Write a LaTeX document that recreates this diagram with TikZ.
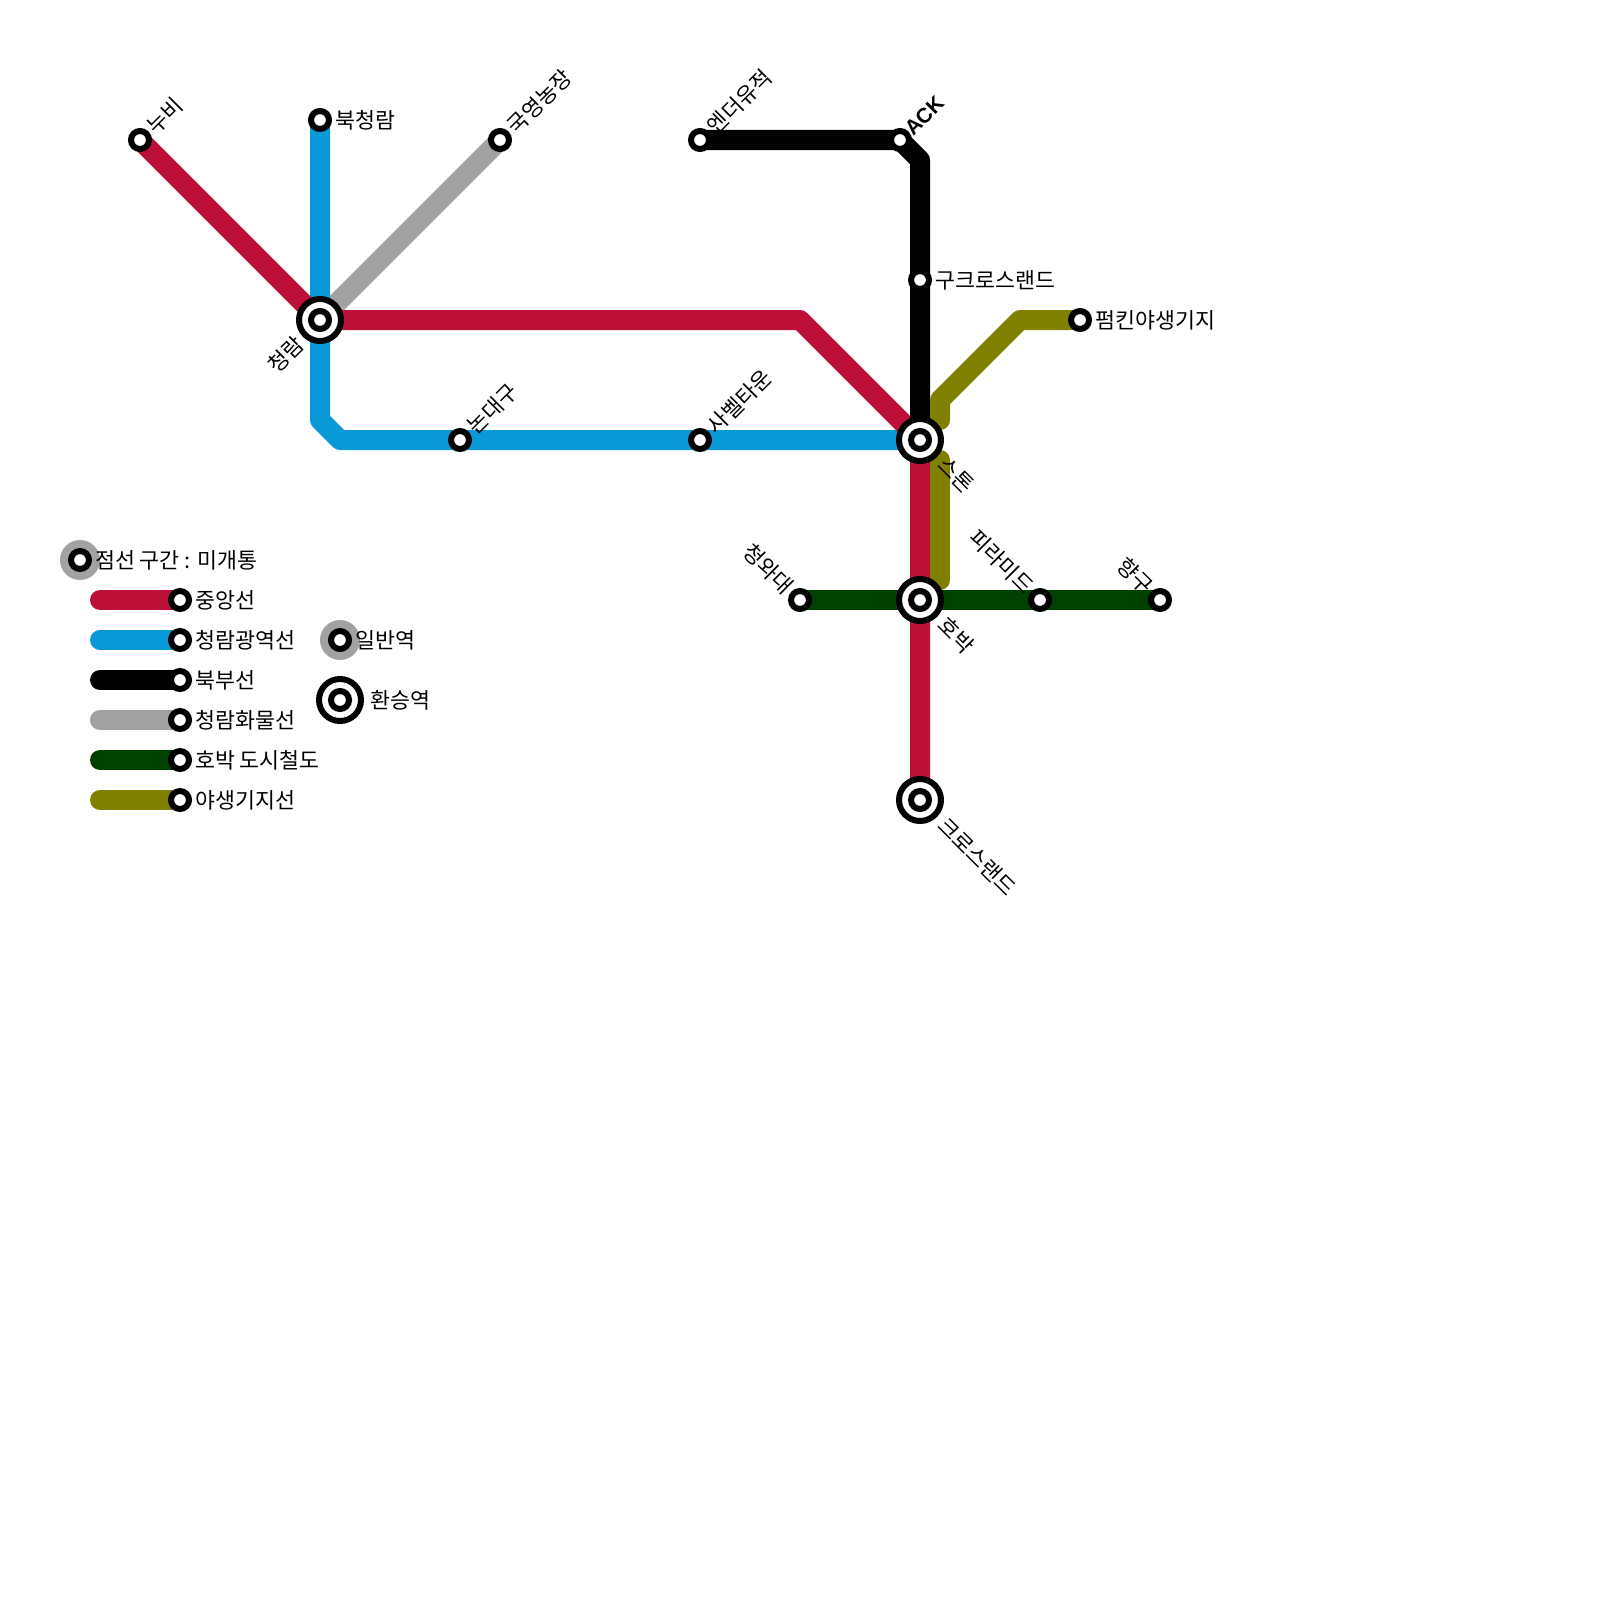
\documentclass[tikz,border=0pt]{standalone}
\usepackage{fontspec}
\setmainfont{Noto Sans CJK KR}
\newfontfamily\latinbold{Liberation Sans}
\usetikzlibrary{backgrounds}
\usepackage{xcolor}
\definecolor{centralred}{HTML}{BD1038}
\definecolor{metroblue}{HTML}{0998D8}
\definecolor{freightgray}{HTML}{A2A2A2}
\definecolor{pumpkingreen}{HTML}{004000}
\definecolor{wildolive}{HTML}{808000}
\tikzset{
  railline/.style={line width=20pt,line cap=round,line join=round},
  stn/.style={draw=black,fill=white,circle,line width=6pt,minimum size=18pt,inner sep=0pt},
  hub/.style={draw=black,fill=white,circle,line width=6pt,minimum size=42pt,inner sep=0pt},
  halo/.style={fill=freightgray,circle,minimum size=40pt,inner sep=0pt},
  txt/.style={inner sep=0pt,font=\fontsize{21.7}{24}\selectfont,text=black},
}
\begin{document}
\begin{tikzpicture}[x=20pt,y=-20pt]
  \useasboundingbox (0,0) rectangle (80,80);

  % stations
  \node[stn] (nubi) at (7,7) {};
  \node[stn] (bukcheongram) at (16,6) {};
  \node[stn] (farm) at (25,7) {};
  \node[stn] (ender) at (35,7) {};
  \node[stn] (ack) at (45,7) {};
  \node[stn] (oldcross) at (46,14) {};
  \node[stn] (pumpkin) at (54,16) {};
  \node[stn] (nondaegu) at (23,22) {};
  \node[stn] (savel) at (35,22) {};
  \node[stn] (cheongwadae) at (40,30) {};
  \node[stn] (pyramid) at (52,30) {};
  \node[stn] (hyanggu) at (58,30) {};

  % transfer stations
  \node[hub] (cheongram) at (16,16) {};
  \node[stn] (cheongraminner) at (16,16) {};
  \node[hub] (stone) at (46,22) {};
  \node[stn] (stoneinner) at (46,22) {};
  \node[hub] (hobak) at (46,30) {};
  \node[stn] (hobakinner) at (46,30) {};
  \node[hub] (crossland) at (46,40) {};
  \node[stn] (crosslandinner) at (46,40) {};

  % bends
  \coordinate (redbend) at (40,16);
  \coordinate (bluebenda) at (16,21);
  \coordinate (bluebendb) at (17,22);
  \coordinate (blackbend) at (46,8);
  \coordinate (olivea) at (51,16);
  \coordinate (oliveb) at (47,20);
  \coordinate (olivec) at (47,21);
  \coordinate (olived) at (47,23);
  \coordinate (olivee) at (47,29);

  % legend
  \node[stn] (legdotted) at (4,28) {};
  \node[stn] (legred) at (9,30) {};
  \node[stn] (legblue) at (9,32) {};
  \node[stn] (legblack) at (9,34) {};
  \node[stn] (leggray) at (9,36) {};
  \node[stn] (leggreen) at (9,38) {};
  \node[stn] (legolive) at (9,40) {};
  \node[stn] (legnormal) at (17,32) {};
  \node[hub] (leghub) at (17,35) {};
  \node[stn] (leghubinner) at (17,35) {};
  \coordinate (legreds) at (5,30);
  \coordinate (legblues) at (5,32);
  \coordinate (legblacks) at (5,34);
  \coordinate (leggrays) at (5,36);
  \coordinate (leggreens) at (5,38);
  \coordinate (legolives) at (5,40);

  \begin{scope}[on background layer]
    \node[halo] (legdottedhalo) at (4,28) {};
    \node[halo] (legnormalhalo) at (17,32) {};
    \draw[railline,freightgray] (farm.center) -- (cheongram.center);
    \draw[railline,metroblue] (bukcheongram.center) -- (bluebenda) -- (bluebendb) -- (stone.center);
    \draw[railline,centralred] (nubi.center) -- (cheongram.center) -- (redbend) -- (stone.center) -- (crossland.center);
    \draw[railline,black] (ender.center) -- (ack.center) -- (blackbend) -- (stone.center);
    \draw[railline,pumpkingreen] (cheongwadae.center) -- (hyanggu.center);
    \draw[railline,wildolive] (pumpkin.center) -- (olivea) -- (oliveb) -- (olivec);
    \draw[railline,wildolive] (olived) -- (olivee);
    \draw[railline,centralred] (legreds) -- (legred.center);
    \draw[railline,metroblue] (legblues) -- (legblue.center);
    \draw[railline,black] (legblacks) -- (legblack.center);
    \draw[railline,freightgray] (leggrays) -- (leggray.center);
    \draw[railline,pumpkingreen] (leggreens) -- (leggreen.center);
    \draw[railline,wildolive] (legolives) -- (legolive.center);
  \end{scope}

  % labels
  \node[txt,rotate=45,anchor=west] (nubitxt) at (7.55,6.5) {누비};
  \node[txt,anchor=west] (bukcheongramtxt) at (16.75,6.03) {북청람};
  \node[txt,rotate=45,anchor=west] (farmtxt) at (25.55,6.5) {국영농장};
  \node[txt,rotate=45,anchor=west] (endertxt) at (35.55,6.5) {엔더유적};
  \node[txt,rotate=45,anchor=west,font=\latinbold\fontsize{21}{24}\selectfont\bfseries] (acktxt) at (45.4,6.6) {ACK};
  \node[txt,anchor=west] (oldcrosstxt) at (46.75,14.03) {구크로스랜드};
  \node[txt,anchor=west] (pumpkintxt) at (54.75,16.03) {펌킨야생기지};
  \node[txt,rotate=45,anchor=east] (cheongramtxt) at (15,17) {청람};
  \node[txt,rotate=45,anchor=west] (nondaegutxt) at (23.55,21.5) {논대구};
  \node[txt,rotate=45,anchor=west] (saveltxt) at (35.55,21.5) {사벨타운};
  \node[txt,rotate=-45,anchor=west] (stonetxt) at (47.1,23.05) {스톤};
  \node[txt,rotate=-45,anchor=east] (cheongwadaetxt) at (39.5,29.5) {청와대};
  \node[txt,rotate=-45,anchor=west] (hobaktxt) at (47.1,31.05) {호박};
  \node[txt,rotate=-45,anchor=east] (pyramidtxt) at (51.5,29.5) {피라미드};
  \node[txt,rotate=-45,anchor=east] (hyanggutxt) at (57.5,29.5) {향구};
  \node[txt,rotate=-45,anchor=west] (crosslandtxt) at (47.1,41.05) {크로스랜드};

  \node[txt,anchor=west] (legdottedtxt) at (4.75,28.03) {점선 구간 : 미개통};
  \node[txt,anchor=west] (legredtxt) at (9.75,30.03) {중앙선};
  \node[txt,anchor=west] (legbluetxt) at (9.75,32.03) {청람광역선};
  \node[txt,anchor=west] (legblacktxt) at (9.75,34.03) {북부선};
  \node[txt,anchor=west] (leggraytxt) at (9.75,36.03) {청람화물선};
  \node[txt,anchor=west] (leggreentxt) at (9.75,38.03) {호박 도시철도};
  \node[txt,anchor=west] (legolivetxt) at (9.75,40.03) {야생기지선};
  \node[txt,anchor=west] (legnormaltxt) at (17.75,32.03) {일반역};
  \node[txt,anchor=west] (leghubtxt) at (18.5,35.03) {환승역};
\end{tikzpicture}
\end{document}
